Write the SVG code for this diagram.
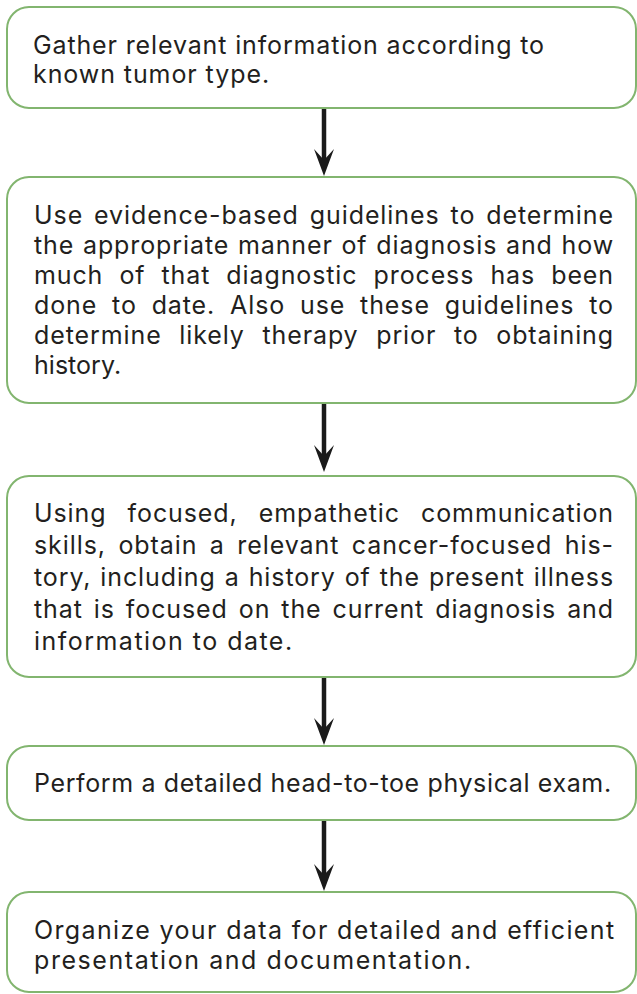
<svg xmlns="http://www.w3.org/2000/svg" width="637" height="994" viewBox="0 0 637 994">
  <style>
    .box { fill: #ffffff; stroke: #82b56f; stroke-width: 2; }
    .t { font-family: Inter, "Liberation Sans", sans-serif; font-size: 25px; letter-spacing: 0.9px; fill: #231f20; font-variant-ligatures: none; }
    .conn { stroke: #1a1a1a; stroke-width: 4.5; fill: none; }
  </style>
  <defs>
    <marker id="ah" markerUnits="userSpaceOnUse" viewBox="0 0 27 20" markerWidth="27" markerHeight="20" refX="11" refY="10" orient="auto">
      <path d="M0,0 L27,10 L0,20 L11,10 Z" fill="#1a1a1a"/>
    </marker>
  </defs>
  <rect width="637" height="994" fill="#ffffff"/>

  <g id="connectors">
    <line class="conn" x1="324" y1="108" x2="324" y2="160" marker-end="url(#ah)"/>
    <line class="conn" x1="324" y1="403" x2="324" y2="456" marker-end="url(#ah)"/>
    <line class="conn" x1="324" y1="677" x2="324" y2="729" marker-end="url(#ah)"/>
    <line class="conn" x1="324" y1="820" x2="324" y2="875" marker-end="url(#ah)"/>
  </g>

  <g id="node1">
    <rect class="box" x="7" y="7" width="629" height="101" rx="22"/>
    <text class="t" x="33" y="54" textLength="512" lengthAdjust="spacing">Gather relevant information according to</text>
    <text class="t" x="33" y="83" textLength="237" lengthAdjust="spacing">known tumor type.</text>
  </g>

  <g id="node2">
    <rect class="box" x="7" y="177" width="629" height="226" rx="22"/>
    <text class="t" x="34" y="224" style="word-spacing:3px" textLength="580" lengthAdjust="spacing">Use evidence-based guidelines to determine</text>
    <text class="t" x="34" y="254" style="word-spacing:0.8px" textLength="580" lengthAdjust="spacing">the appropriate manner of diagnosis and how</text>
    <text class="t" x="34" y="284" style="word-spacing:8.2px" textLength="580" lengthAdjust="spacing">much of that diagnostic process has been</text>
    <text class="t" x="34" y="314" style="word-spacing:6.9px" textLength="580" lengthAdjust="spacing">done to date. Also use these guidelines to</text>
    <text class="t" x="34" y="344" style="word-spacing:9.7px" textLength="580" lengthAdjust="spacing">determine likely therapy prior to obtaining</text>
    <text class="t" x="34" y="374" textLength="88" lengthAdjust="spacing">history.</text>
  </g>

  <g id="node3">
    <rect class="box" x="7" y="476" width="629" height="201" rx="22"/>
    <text class="t" x="34" y="522" style="word-spacing:13.2px" textLength="580" lengthAdjust="spacing">Using focused, empathetic communication</text>
    <text class="t" x="34" y="554" style="word-spacing:4.6px" textLength="580" lengthAdjust="spacing">skills, obtain a relevant cancer-focused his-</text>
    <text class="t" x="34" y="586" style="word-spacing:1.1px" textLength="580" lengthAdjust="spacing">tory, including a history of the present illness</text>
    <text class="t" x="34" y="618" style="word-spacing:3.1px" textLength="580" lengthAdjust="spacing">that is focused on the current diagnosis and</text>
    <text class="t" x="34" y="650" textLength="259" lengthAdjust="spacing">information to date.</text>
  </g>

  <g id="node4">
    <rect class="box" x="7" y="746" width="629" height="74" rx="22"/>
    <text class="t" x="34" y="792" textLength="578" lengthAdjust="spacing">Perform a detailed head-to-toe physical exam.</text>
  </g>

  <g id="node5">
    <rect class="box" x="7" y="892" width="629" height="100" rx="22"/>
    <text class="t" x="34" y="939" textLength="581" lengthAdjust="spacing">Organize your data for detailed and efficient</text>
    <text class="t" x="34" y="969" textLength="438" lengthAdjust="spacing">presentation and documentation.</text>
  </g>
</svg>
